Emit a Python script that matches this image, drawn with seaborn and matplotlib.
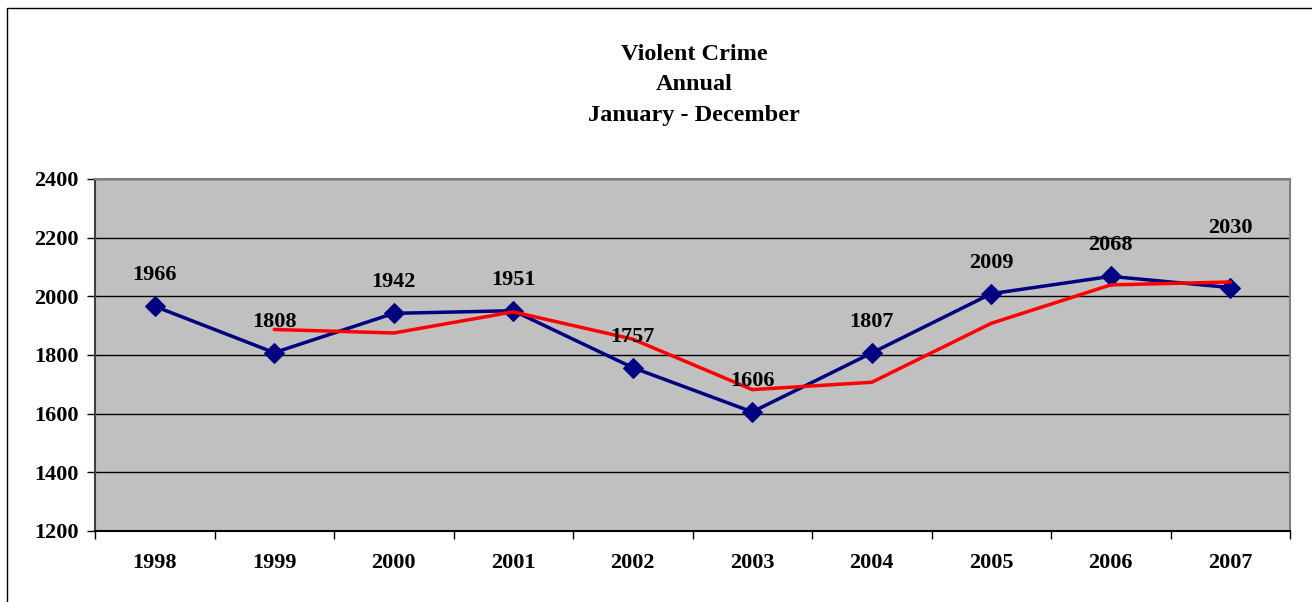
import matplotlib.pyplot as plt
import matplotlib.patches as mpatches
import numpy as np
import pandas as pd
import seaborn as sns

# data
years = [1998, 1999, 2000, 2001, 2002, 2003, 2004, 2005, 2006, 2007]
crimes = [1966, 1808, 1942, 1951, 1757, 1606, 1807, 2009, 2068, 2030]
trend_years = [1999, 2000, 2001, 2002, 2003, 2004, 2005, 2006, 2007]
trend = [1887, 1875, 1947, 1854, 1682, 1707, 1908, 2039, 2049]
title_lines = ["Violent Crime", "Annual", "January - December"]

df = pd.DataFrame({"year": years, "crimes": crimes})
df_trend = pd.DataFrame({"year": trend_years, "trend": trend})

sns.set_style("white")
plt.rcParams["font.family"] = ["Liberation Serif", "DejaVu Serif"]
plt.rcParams["font.weight"] = "bold"
plt.rcParams["text.color"] = "black"
plt.rcParams["xtick.color"] = "black"
plt.rcParams["ytick.color"] = "black"

fig = plt.figure(figsize=(13.12, 6.02), dpi=100)
ax = fig.add_axes([95 / 1312, 1 - 531 / 602, (1290 - 95) / 1312, (531 - 179) / 602])
ax.set_facecolor("#C0C0C0")

sns.lineplot(data=df, x="year", y="crimes", ax=ax, color="#000080", linewidth=2.5,
             marker="D", markersize=10, markeredgecolor="#000080", zorder=3)
sns.lineplot(data=df_trend, x="year", y="trend", ax=ax, color="#FF0000", linewidth=2.5, zorder=4)

# data labels (Excel puts the last one higher)
offsets = [31, 31, 31, 31, 31, 31, 31, 31, 31, 60]
for x, y, off in zip(years, crimes, offsets):
    ax.annotate(str(y), (x, y), xytext=(0, off * 0.72), textcoords="offset points",
                ha="center", va="center", fontsize=16, fontweight="bold", color="black", zorder=5)

ax.set_xlim(1997.5, 2007.5)
ax.set_ylim(1200, 2400)
ax.set_yticks(np.arange(1200, 2401, 200))
ax.yaxis.grid(True, color="black", linewidth=1)
ax.set_axisbelow(True)

ax.set_xticks(np.arange(1997.5, 2008, 1))
ax.set_xticklabels([])
ax.set_xticks(years, minor=True)
ax.set_xticklabels([str(y) for y in years], minor=True)
ax.tick_params(axis="x", which="major", bottom=True, direction="out", length=6, width=1, color="black")
ax.tick_params(axis="x", which="minor", bottom=True, length=0, pad=16, labelsize=16, labelcolor="black")
ax.tick_params(axis="y", left=True, direction="out", length=6, width=1, pad=6, labelsize=16,
               color="black", labelcolor="black")
for lab in ax.get_xticklabels(minor=True) + ax.get_yticklabels():
    lab.set_fontweight("bold")

ax.spines["left"].set_color("#404040")
ax.spines["bottom"].set_color("black")
ax.spines["top"].set_color("#808080")
ax.spines["right"].set_color("#808080")
for s in ax.spines.values():
    s.set_linewidth(1.5)

ax.set_xlabel("")
ax.set_ylabel("")

for line, ypix in zip(title_lines, [54, 85, 115]):
    fig.text(694 / 1312, 1 - ypix / 602, line, ha="center", va="center",
             fontsize=17.5, fontweight="bold", color="black")

# outer chart border (cut off on the right and bottom)
fig.patches.append(mpatches.Rectangle((7 / 1312, -0.1), 1.2, 1 - 8 / 602 + 0.1, fill=False,
                                      edgecolor="black", linewidth=1, transform=fig.transFigure))

fig.savefig("out.png", dpi=100)
